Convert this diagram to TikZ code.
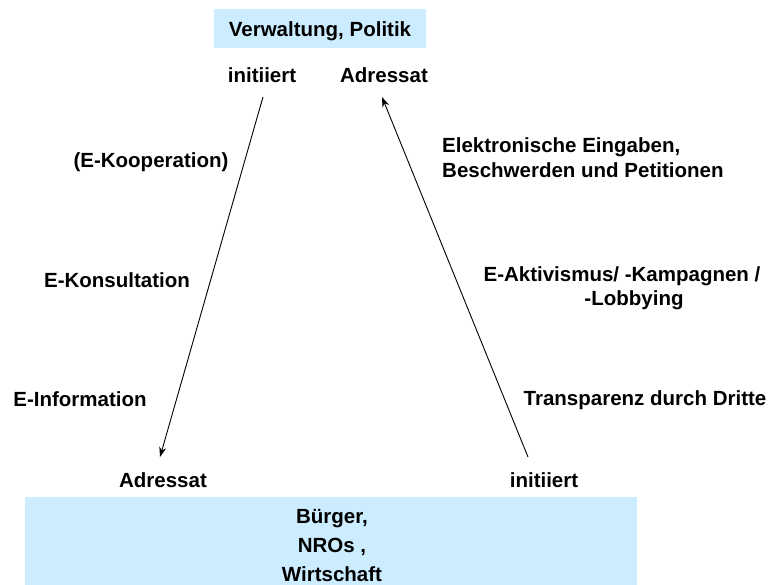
\documentclass[tikz,border=0pt]{standalone}
\usepackage{fontspec}
\setmainfont{Liberation Sans}
\usetikzlibrary{arrows.meta,positioning}
\definecolor{boxblue}{RGB}{204,236,255}

\begin{document}
\begin{tikzpicture}[x=1pt, y=-1pt, >={Stealth[length=10pt,width=7pt]},
    font=\fontsize{20.5}{25}\selectfont\bfseries,
    lbl/.style={inner sep=0pt, anchor=base},
    link/.style={->, line width=0.9pt}]
  \useasboundingbox (0,0) rectangle (773,585);
  % Boxes
  \fill[boxblue] (214,9) rectangle (426,48);
  \fill[boxblue] (25,497) rectangle (637,585);
  \node[lbl] (Top) at (320,37) {Verwaltung, Politik};
  \node[lbl] (Bot1) at (332,523) {B\"urger,};
  \node[lbl] (Bot2) at (332,552) {NROs ,};
  \node[lbl] (Bot3) at (332,581) {Wirtschaft};
  % Ends
  \node[lbl] (TopInit) at (262,83) {initiiert};
  \node[lbl] (TopAdr) at (384,83) {Adressat};
  \node[lbl] (BotAdr) at (163,487) {Adressat};
  \node[lbl] (BotInit) at (544,487) {initiiert};
  % Labels
  \node[lbl] (Koop) at (151,168) {(E-Kooperation)};
  \node[lbl] (Kons) at (117,287) {E-Konsultation};
  \node[lbl] (Info) at (80,406) {E-Information};
  \node[lbl, anchor=base west] (Eing1) at (442,153) {Elektronische Eingaben,};
  \node[lbl, anchor=base west] (Eing2) at (442,178) {Beschwerden und Petitionen};
  \node[lbl] (Akti1) at (622,281) {E-Aktivismus/ -Kampagnen /};
  \node[lbl] (Akti2) at (634,305) {-Lobbying};
  \node[lbl] (Trans) at (645,405) {Transparenz durch Dritte};
  % Arrows
  \coordinate (a1) at (263,97);
  \coordinate (a2) at (160,457);
  \coordinate (b1) at (528,457);
  \coordinate (b2) at (382,97);
  \draw[link] (a1) -- (a2);
  \draw[link] (b1) -- (b2);
\end{tikzpicture}
\end{document}
